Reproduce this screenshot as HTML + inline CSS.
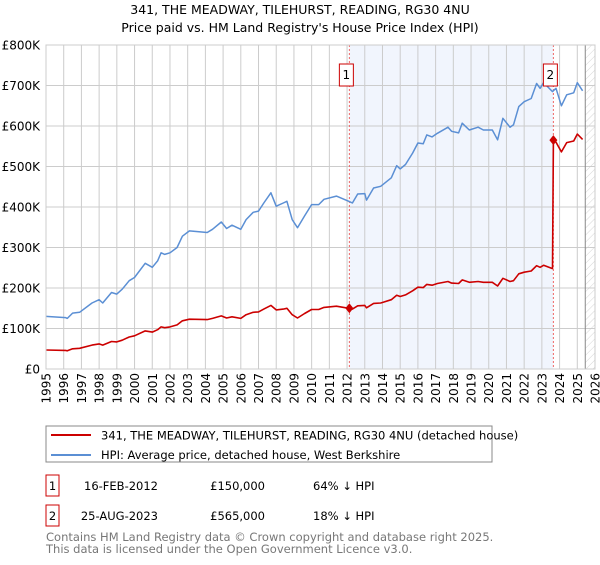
<!DOCTYPE html>
<html><head><meta charset="utf-8">
<style>
body{margin:0;background:#fff;width:600px;height:560px;overflow:hidden;font-family:"Liberation Sans","DejaVu Sans",sans-serif;}
svg text{font-family:"DejaVu Sans","Liberation Sans",sans-serif;}
</style></head>
<body>
<svg id="chart" width="600" height="560" xmlns="http://www.w3.org/2000/svg">
<defs>
<pattern id="hatch" patternUnits="userSpaceOnUse" width="5" height="5" patternTransform="rotate(45)">
<line x1="0" y1="0" x2="0" y2="5" stroke="#ccc" stroke-width="0.8"/>
</pattern>
</defs>
<text x="300" y="14" text-anchor="middle" font-size="12.5">341, THE MEADWAY, TILEHURST, READING, RG30 4NU</text>
<text x="300" y="32" text-anchor="middle" font-size="12.5">Price paid vs. HM Land Registry's House Price Index (HPI)</text>
<g id="plot"></g>
<g>
<rect x="46" y="426" width="446" height="36" fill="#fff" stroke="#888"/>
<line x1="51" y1="435" x2="91" y2="435" stroke="#cc0000" stroke-width="2"/>
<text x="101" y="439.5" font-size="11.5">341, THE MEADWAY, TILEHURST, READING, RG30 4NU (detached house)</text>
<line x1="51" y1="455" x2="91" y2="455" stroke="#5b8fd4" stroke-width="2"/>
<text x="101" y="459" font-size="11.5">HPI: Average price, detached house, West Berkshire</text>
</g>
<g font-size="11.5">
<rect x="46" y="475" width="13" height="21" fill="#fff" stroke="#cc0000"/>
<text x="52.5" y="490" text-anchor="middle">1</text>
<text x="158" y="490" text-anchor="end">16-FEB-2012</text>
<text x="265" y="490" text-anchor="end">£150,000</text>
<text x="313" y="490">64% ↓ HPI</text>
<rect x="46" y="505" width="13" height="21" fill="#fff" stroke="#cc0000"/>
<text x="52.5" y="520" text-anchor="middle">2</text>
<text x="158" y="520" text-anchor="end">25-AUG-2023</text>
<text x="265" y="520" text-anchor="end">£565,000</text>
<text x="313" y="520">18% ↓ HPI</text>
</g>
<g font-size="11.5" fill="#777">
<text x="46" y="541">Contains HM Land Registry data © Crown copyright and database right 2025.</text>
<text x="46" y="553">This data is licensed under the Open Government Licence v3.0.</text>
</g>
</svg>
<script>
const hpiYears=[1995.0,1996.1,1996.2,1996.5,1996.9,1997.6,1998.0,1998.2,1998.7,1999.0,1999.3,1999.7,2000.0,2000.6,2001.0,2001.3,2001.5,2001.7,2002.0,2002.4,2002.7,2003.1,2004.1,2004.4,2004.9,2005.2,2005.5,2006.0,2006.3,2006.7,2007.0,2007.3,2007.7,2008.0,2008.4,2008.6,2008.9,2009.2,2009.6,2010.0,2010.4,2010.7,2011.4,2012.1,2012.3,2012.6,2013.0,2013.1,2013.5,2013.9,2014.5,2014.8,2015.0,2015.3,2015.7,2016.0,2016.3,2016.5,2016.8,2017.1,2017.7,2017.9,2018.3,2018.5,2018.9,2019.4,2019.7,2020.2,2020.5,2020.8,2021.2,2021.4,2021.7,2022.0,2022.4,2022.7,2022.9,2023.1,2023.6,2023.8,2024.1,2024.4,2024.8,2025.0,2025.3];
const hpiValues=[130,127,125,138,140,163,171,163,189,185,197,218,226,261,251,267,287,283,287,300,328,341,337,345,363,347,355,345,369,387,390,410,435,402,410,414,369,349,378,406,406,419,427,414,410,432,433,417,447,451,472,502,494,505,533,558,556,578,573,582,597,587,583,607,590,597,590,590,566,619,597,603,648,660,668,705,693,707,685,693,650,677,682,707,687];
const redYears=[1995.0,1996.1,1996.2,1996.5,1996.9,1997.6,1998.0,1998.2,1998.7,1999.0,1999.3,1999.7,2000.0,2000.6,2001.0,2001.3,2001.5,2001.7,2002.0,2002.4,2002.7,2003.1,2004.1,2004.4,2004.9,2005.2,2005.5,2006.0,2006.3,2006.7,2007.0,2007.3,2007.7,2008.0,2008.4,2008.6,2008.9,2009.2,2009.6,2010.0,2010.4,2010.7,2011.4,2012.1,2012.3,2012.6,2013.0,2013.1,2013.5,2013.9,2014.5,2014.8,2015.0,2015.3,2015.7,2016.0,2016.3,2016.5,2016.8,2017.1,2017.7,2017.9,2018.3,2018.5,2018.9,2019.4,2019.7,2020.2,2020.5,2020.8,2021.2,2021.4,2021.7,2022.0,2022.4,2022.7,2022.9,2023.1,2023.6,2023.65,2023.8,2024.1,2024.4,2024.8,2025.0,2025.3];
const redValues=[47,46,45,50,51,59,62,59,68,67,71,79,82,94,91,97,104,102,104,109,119,123,122,125,131,126,129,125,134,140,141,148,157,146,148,150,134,126,137,147,147,152,155,150,148,156,157,151,162,163,171,182,179,183,193,202,201,209,207,211,216,212,211,220,214,216,214,214,205,224,216,218,235,239,242,255,251,256,248,565,560,536,559,563,580,567];
const saleYears=[2012.13,2023.65];
const saleValues=[150,565];
const saleLabels=["1","2"];
const yTicks=[0,100,200,300,400,500,600,700,800];
const yTickLabels=["£0","£100K","£200K","£300K","£400K","£500K","£600K","£700K","£800K"];
const xTicks=[1995,1996,1997,1998,1999,2000,2001,2002,2003,2004,2005,2006,2007,2008,2009,2010,2011,2012,2013,2014,2015,2016,2017,2018,2019,2020,2021,2022,2023,2024,2025,2026];

const X0=46,X1=595,Y0=369,Y1=45;
const xs=y=>X0+(y-1995)/(2026-1995)*(X1-X0);
const ys=v=>Y0-v/800*(Y0-Y1);
const NS="http://www.w3.org/2000/svg";
const g=document.getElementById('plot');
function mk(t,a){const e=document.createElementNS(NS,t);for(const k in a)e.setAttribute(k,a[k]);g.appendChild(e);return e;}

let e=mk('rect',{x:X0,y:Y1,width:X1-X0,height:Y0-Y1,fill:'#fff'});


e=mk('rect',{x:xs(saleYears[0]),y:Y1,width:xs(saleYears[1])-xs(saleYears[0]),height:Y0-Y1,fill:'#eef3fc',opacity:0.8});


e=mk('rect',{x:xs(2025.45),y:Y1,width:X1-xs(2025.45),height:Y0-Y1,fill:'url(#hatch)'});


xTicks.forEach(t=>{
  const l=mk('line',{x1:xs(t),x2:xs(t),y1:Y1,y2:Y0,stroke:'#ccc','stroke-width':1});
  
  
  const tx=mk('text',{x:0,y:0,'font-size':12,'text-anchor':'end',transform:`translate(${xs(t)+4.5},${Y0+4}) rotate(-90)`});
  tx.textContent=t;
  
  
});
yTicks.forEach((t,i)=>{
  const l=mk('line',{x1:X0,x2:X1,y1:ys(t),y2:ys(t),stroke:'#ccc','stroke-width':1});
  
  
  const tx=mk('text',{x:40,y:ys(t)+4.5,'font-size':12,'text-anchor':'end'});
  tx.textContent=yTickLabels[i];
  
  
});
e=mk('line',{x1:xs(2025.45),x2:xs(2025.45),y1:Y1,y2:Y0,stroke:'#888','stroke-width':1});


saleYears.forEach((s,i)=>{
  const l=mk('line',{x1:xs(s),x2:xs(s),y1:Y1,y2:Y0,stroke:'#e66','stroke-width':1,'stroke-dasharray':'2,2'});
  
  
});
const pts=(xa,va)=>xa.map((x,i)=>xs(x).toFixed(1)+','+ys(va[i]).toFixed(1)).join(' ');
e=mk('polyline',{points:pts(hpiYears,hpiValues),fill:'none',stroke:'#5b8fd4','stroke-width':1.5,'stroke-linejoin':'round'});


e=mk('polyline',{points:pts(redYears,redValues),fill:'none',stroke:'#cc0000','stroke-width':1.6,'stroke-linejoin':'round'});


saleYears.forEach((s,i)=>{
  const cx=xs(s),cy=ys(saleValues[i]);
  const d=mk('polygon',{points:`${cx},${cy-5} ${cx+4},${cy} ${cx},${cy+5} ${cx-4},${cy}`,fill:'#cc0000'});
  
  
  const b=mk('rect',{x:cx-10,y:64,width:14,height:22,fill:'#fff',stroke:'#cc0000'});
  
  
  const t=mk('text',{x:cx-3,y:79,'font-size':12,'text-anchor':'middle'});
  t.textContent=saleLabels[i];
  
  
});
e=mk('rect',{x:X0,y:Y1,width:X1-X0,height:Y0-Y1,fill:'none',stroke:'#ccc'});


</script>
</body></html>
